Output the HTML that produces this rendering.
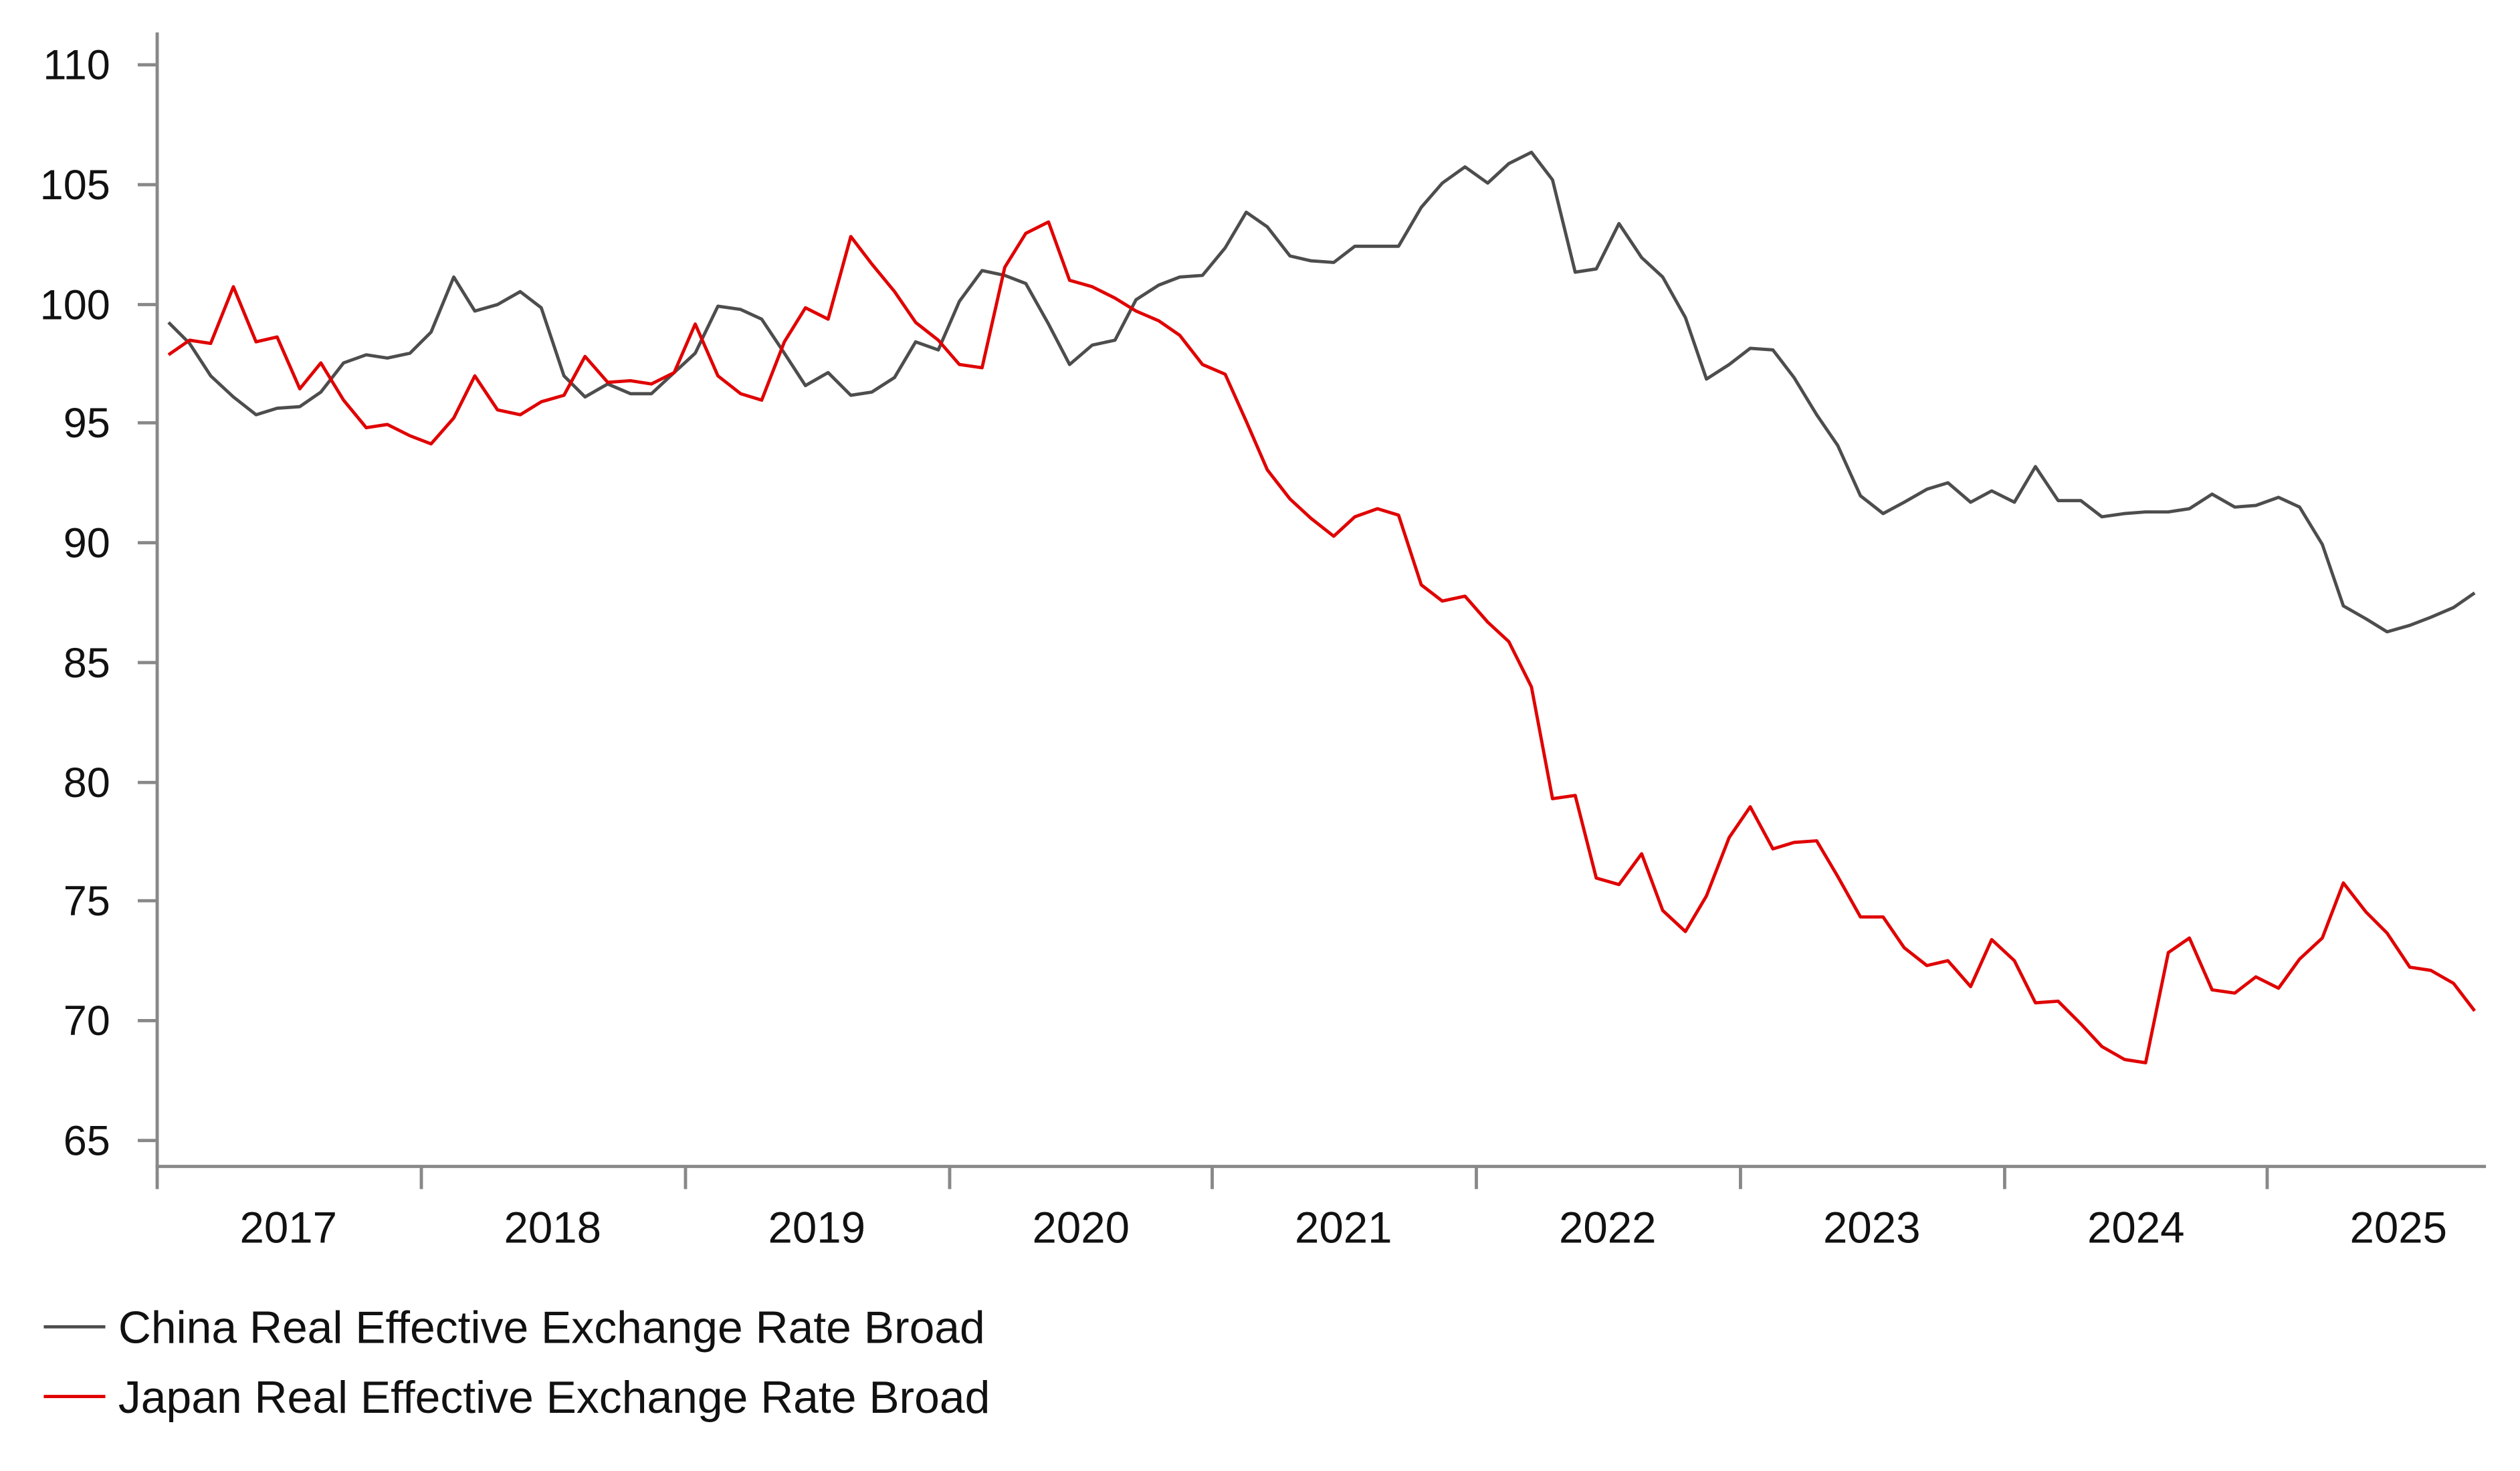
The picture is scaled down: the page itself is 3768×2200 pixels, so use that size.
<!DOCTYPE html>
<html><head><meta charset="utf-8"><style>html,body{margin:0;padding:0;background:#fff;}svg{display:block}</style></head>
<body>
<svg width="3768" height="2200" viewBox="0 0 1555 908" preserveAspectRatio="none" xmlns="http://www.w3.org/2000/svg" font-family="Liberation Sans, Arial, sans-serif">
<rect width="1555" height="908" fill="#fff"/>
<g stroke="#888" stroke-width="2" fill="none">
<line x1="97" y1="20" x2="97" y2="721"/>
<line x1="96" y1="720" x2="1534" y2="720"/>
<path d="M85 40H97M85 114H97M85 188H97M85 261H97M85 335H97M85 409H97M85 483H97M85 556H97M85 630H97M85 704H97"/>
<path d="M97 720V734M260 720V734M423 720V734M586 720V734M748 720V734M911 720V734M1074 720V734M1237 720V734M1399 720V734"/>
</g>
<g font-size="26" fill="#111" text-anchor="end">
<text x="68" y="49">110</text><text x="68" y="123">105</text><text x="68" y="197">100</text><text x="68" y="270">95</text><text x="68" y="344">90</text><text x="68" y="418">85</text><text x="68" y="492">80</text><text x="68" y="565">75</text><text x="68" y="639">70</text><text x="68" y="713">65</text>
</g>
<g font-size="27" fill="#111" text-anchor="middle">
<text x="178" y="767">2017</text><text x="341" y="767">2018</text><text x="504" y="767">2019</text><text x="667" y="767">2020</text><text x="829" y="767">2021</text><text x="992" y="767">2022</text><text x="1155" y="767">2023</text><text x="1318" y="767">2024</text><text x="1480" y="767">2025</text>
</g>
<polyline fill="none" stroke="#4d4d4d" stroke-width="2" stroke-linejoin="round" points="104,199 117,212 130,232 144,245 158,256 171,252 185,251 198,242 212,224 226,219 239,221 253,218 266,205 280,171 293,192 307,188 321,180 334,190 348,232 361,245 375,237 389,243 402,243 416,230 429,218 443,189 457,191 470,197 484,218 497,238 511,230 525,244 538,242 552,233 565,211 579,216 592,186 606,167 620,170 633,175 647,200 660,225 674,213 688,210 701,185 715,176 728,171 742,170 756,153 769,131 782,140 796,158 809,161 823,162 836,152 850,152 863,152 877,128 890,113 904,103 918,113 931,101 945,94 958,111 972,168 985,166 999,138 1013,159 1026,171 1040,196 1053,234 1067,225 1080,215 1094,216 1107,233 1121,256 1134,275 1148,306 1162,317 1175,310 1189,302 1202,298 1216,310 1229,303 1243,310 1256,288 1270,309 1284,309 1297,319 1311,317 1324,316 1338,316 1351,314 1365,305 1379,313 1392,312 1406,307 1419,313 1433,336 1446,374 1460,382 1473,390 1487,386 1500,381 1514,375 1527,366"/>
<polyline fill="none" stroke="#e00000" stroke-width="2" stroke-linejoin="round" points="104,219 117,210 130,212 144,177 158,211 171,208 185,240 198,224 212,247 226,264 239,262 253,269 266,274 280,258 293,232 307,253 321,256 334,248 348,244 361,220 375,236 389,235 402,237 416,230 429,200 443,232 457,243 470,247 484,211 497,190 511,197 525,146 538,163 552,180 565,199 579,210 592,225 606,227 620,165 633,144 647,137 660,173 674,177 688,184 701,192 715,198 728,207 742,225 756,231 769,260 782,290 796,308 809,320 823,331 836,319 850,314 863,318 877,361 890,371 904,368 918,384 931,396 945,424 958,493 972,491 985,542 999,546 1013,527 1026,562 1040,575 1053,553 1067,517 1080,498 1094,524 1107,520 1121,519 1134,541 1148,566 1162,566 1175,585 1189,596 1202,593 1216,609 1229,580 1243,593 1256,619 1270,618 1284,632 1297,646 1311,654 1324,656 1338,588 1351,579 1365,611 1379,613 1392,603 1406,610 1419,592 1433,579 1446,545 1460,563 1473,576 1487,597 1500,599 1514,607 1527,624"/>
<line x1="27" y1="819" x2="65" y2="819" stroke="#4d4d4d" stroke-width="2"/>
<line x1="27" y1="862" x2="65" y2="862" stroke="#e00000" stroke-width="2"/>
<g font-size="28" fill="#111">
<text x="73" y="829">China Real Effective Exchange Rate Broad</text>
<text x="73" y="872">Japan Real Effective Exchange Rate Broad</text>
</g>
</svg>
</body></html>
